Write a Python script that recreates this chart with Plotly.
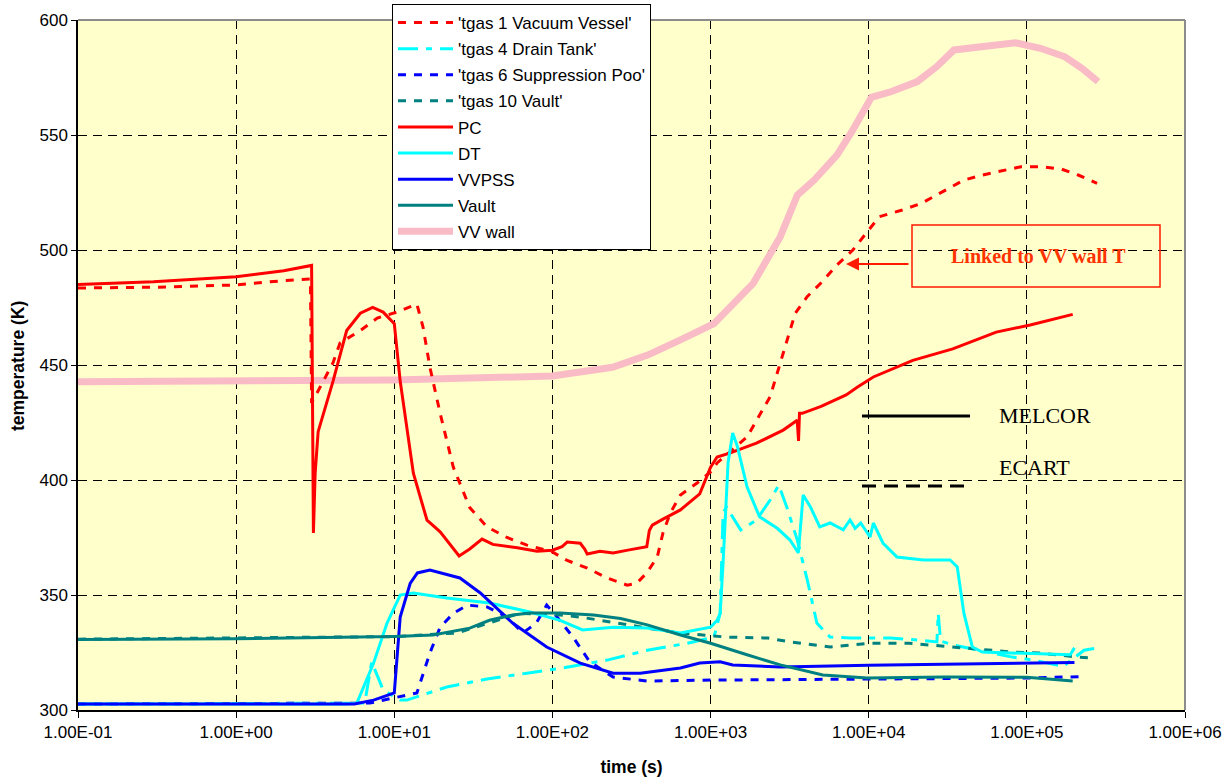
import plotly.graph_objects as go

# ---------------- data ----------------
x_tickvals = [0.1, 1, 10, 100, 1000, 10000, 100000, 1000000]
x_ticktext = ["1.00E-01", "1.00E+00", "1.00E+01", "1.00E+02", "1.00E+03", "1.00E+04", "1.00E+05", "1.00E+06"]

t_vv_ecart = [0.1, 0.3, 1, 2, 2.95, 3.0, 3.4, 4.1, 4.54, 6.1, 7.8, 10.4, 13.9, 15.2, 16.8, 19.5, 23.6, 30, 38.6,
              51.6, 69, 100, 124, 166, 222, 297, 340, 395, 460, 500, 556, 645, 822, 1000, 1100, 1700, 2380, 3430,
              4080, 5080, 6300, 7940, 10000, 11700, 16300, 21600, 29400, 40000, 52300, 69000, 92000, 125000,
              165000, 211000, 278000]
T_vv_ecart = [483.5, 483.8, 484.8, 486.7, 487.4, 433.5, 440.4, 451, 459.6, 465, 470.4, 473, 476.5, 466.5, 449, 429,
              405.6, 388, 379.6, 375, 371.7, 368.7, 365, 361.7, 357.4, 354.3, 355, 359.6, 366.5, 377, 385.6, 393.5,
              398.7, 403.5, 407.4, 418.7, 436.2, 472.5, 479.7, 486.2, 493.5, 500, 508.7, 514.5, 517.4, 520.3,
              525.4, 530.4, 532.6, 534.5, 536.2, 536.2, 535.2, 532.6, 529]

t_dt_ecart = [0.1, 6.5, 7.2, 8.5, 10.9, 12, 21.5, 38.6, 69, 117, 222, 398, 710, 1050, 1150, 1200, 1260, 1550, 1950,
              2380, 2700, 3030, 3530, 4090, 4700, 5700, 7620, 13700, 21000, 27000, 27500, 28500, 34000, 50000,
              81000, 110000, 170000, 230000, 280000]
T_dt_ecart = [302.6, 303, 320.9, 308.7, 304.3, 304.3, 310, 313.5, 316, 318.3, 321.7, 326, 329, 331.7, 342, 385.6,
              388.3, 378.3, 382.6, 391.3, 397.8, 388.3, 374, 356.5, 337.8, 331.7, 331.3, 331.3, 330.4, 329.6, 342,
              330, 328.3, 326, 323, 321.7, 319, 326, 327]

t_sp_ecart = [0.1, 7, 9.8, 13.9, 16.8, 19.5, 23.6, 29, 38.6, 51.6, 65, 79, 92, 107, 135, 172, 242, 398, 1000,
              10000, 100000, 220000]
T_sp_ecart = [302.6, 303, 305.2, 307.4, 324.8, 336, 342, 345.6, 344.8, 340.4, 333.5, 337.8, 345.6, 340.4, 331.7,
              321, 314.3, 312.6, 313, 313.3, 313.9, 314.5]

t_vault_ecart = [0.1, 1, 10, 25, 45, 62, 112, 150, 280, 398, 645, 1260, 2290, 3200, 5700, 10000, 18000, 34000,
                 81000, 120000, 209000, 270000]
T_vault_ecart = [330.8, 331.2, 331.9, 333.5, 339, 342, 341.3, 340.4, 337.4, 335.6, 333.5, 331.7, 331.3, 329.6,
                 327.4, 329, 329, 327.4, 325.2, 324.8, 323, 322.6]

t_pc = [0.1, 0.3, 1, 2, 3.0, 3.08, 3.16, 3.3, 4.1, 5.0, 6.1, 7.3, 8.5, 10, 10.9, 13.2, 16.1, 19.5, 25.7, 30, 35.9,
        42, 60, 80, 100, 115, 124, 150, 160, 166, 200, 242, 300, 395, 410, 428, 500, 645, 854, 1000, 1100, 1320,
        1950, 2880, 3530, 3600, 3650, 3800, 5000, 7200, 8500, 10700, 19000, 34000, 64000, 105000, 195000]
T_pc = [485, 486.2, 488.4, 491, 493.3, 377, 403, 421, 443, 465, 472.5, 475, 473, 468, 443, 403, 382.5, 377.5, 367,
        370, 374.3, 372, 370.5, 369, 369.5, 371, 373, 372.5, 370, 367.8, 369, 368.3, 369.5, 371, 378, 380.4, 383,
        387, 394, 405.6, 410, 411.7, 416, 421.7, 426, 417, 429, 429, 432, 437, 440.4, 444.8, 452, 457, 464.3,
        467.4, 472]

t_dt = [0.1, 5.0, 5.8, 7.4, 9.0, 10.9, 13.2, 21.5, 40, 72, 112, 155, 242, 398, 645, 1000, 1100, 1150, 1200, 1290,
        1380, 1480, 1700, 2040, 2640, 3170, 3590, 3850, 4280, 4900, 5700, 6900, 7620, 8200, 8900, 10200, 10700,
        12300, 15100, 22100, 32700, 36300, 40000, 45200, 52300, 100000, 188000, 200000]
T_dt = [302.6, 302.6, 303, 320.4, 337.8, 350, 350.9, 348.7, 346.5, 342.6, 339, 334.8, 336, 335.6, 333.5, 336, 339,
        342, 363.9, 407.4, 420.4, 414.4, 397, 384, 379, 374, 368.3, 393.5, 388.3, 379.6, 381.3, 378.3, 382.6, 379,
        381.3, 375.2, 381.3, 372.6, 366.5, 365.2, 365.2, 362.2, 342, 327.4, 325.2, 324.6, 324, 327]

t_vvpss = [0.1, 5.6, 7.4, 10, 10.9, 12.6, 14, 16.8, 26, 35, 56, 92, 150, 242, 359, 645, 854, 1150, 1380, 2760,
           10000, 100000, 200000]
T_vvpss = [302.6, 302.6, 304.3, 307.4, 340.4, 355, 359.6, 360.9, 357.4, 350.9, 337.8, 327.4, 320.4, 316, 316,
           318.3, 320.4, 321, 319.6, 318.7, 319.5, 320.2, 320.6]

t_vault = [0.1, 1, 10, 17.6, 30, 40, 56, 72, 112, 182, 270, 398, 645, 1000, 1700, 2760, 5130, 9800, 30000, 100000,
           195000]
T_vault = [330.7, 331, 332, 332.6, 335.6, 339, 341.3, 342.2, 342.2, 341.3, 339.8, 337, 332.6, 329, 324, 319.6,
           315.2, 313.9, 314.3, 314.2, 312.6]

t_wall = [0.1, 1, 10, 30, 100, 240, 400, 645, 1050, 1860, 2760, 3540, 4520, 6300, 7940, 10400, 13800, 20300,
          26900, 34600, 52300, 84600, 122000, 174000, 223000, 282000]
T_wall = [442.7, 443, 443.5, 444.3, 445.2, 449, 454.3, 460.9, 468, 485.5, 505.8, 523.9, 530.4, 541.3, 552.2,
          566.4, 568.8, 573.2, 579.7, 587, 588.4, 590.1, 587.7, 584, 579, 573.2]

# ---------------- figure ----------------
RED, CYAN, BLUE, TEAL, PINK = "#FF0000", "#00FFFF", "#0000FF", "#008080", "#F9BCC6"
DASH = "8px,8px"
DASHDOT = "20px,8px,6px,8px"

series = [
    # name, t, T, color, width, dash, legendrank
    ("VV wall", t_wall, T_wall, PINK, 7, "solid", 9),
    ("'tgas 1 Vacuum Vessel'", t_vv_ecart, T_vv_ecart, RED, 3, DASH, 1),
    ("'tgas 4 Drain Tank'", t_dt_ecart, T_dt_ecart, CYAN, 3, DASHDOT, 2),
    ("'tgas 6 Suppression Poo'", t_sp_ecart, T_sp_ecart, BLUE, 3, DASH, 3),
    ("'tgas 10 Vault'", t_vault_ecart, T_vault_ecart, TEAL, 3, DASH, 4),
    ("PC", t_pc, T_pc, RED, 3, "solid", 5),
    ("DT", t_dt, T_dt, CYAN, 3, "solid", 6),
    ("VVPSS", t_vvpss, T_vvpss, BLUE, 3, "solid", 7),
    ("Vault", t_vault, T_vault, TEAL, 3, "solid", 8),
]

fig = go.Figure()
for name, t, T, col, w, dash, rank in series:
    fig.add_trace(go.Scatter(x=t, y=T, mode="lines", name=name, legendgroup=name, legendrank=rank,
                             line=dict(color=col, width=w, dash=dash)))

FONT = "Liberation Sans"
SERIF = "Liberation Serif"


def px_x(p):
    return (p - 78) / 1107.0


def px_y(p):
    return (710 - p) / 690.0


fig.update_layout(
    width=1232, height=783,
    margin=dict(l=78, r=47, t=20, b=73, autoexpand=False),
    paper_bgcolor="white", plot_bgcolor="#FFFFCC",
    font=dict(family=FONT, color="black"),
    showlegend=True,
    legend=dict(x=px_x(392), y=px_y(4), xanchor="left", yanchor="top",
                bgcolor="white", bordercolor="black", borderwidth=1,
                font=dict(family=FONT, size=17, color="black"),
                traceorder="grouped", tracegroupgap=1, itemwidth=55),
    xaxis=dict(type="log", range=[-1, 6], tickvals=x_tickvals, ticktext=x_ticktext,
               tickfont=dict(size=17, family=FONT), ticks="outside", ticklen=6, tickcolor="black",
               showgrid=True, gridcolor="black", gridwidth=1, griddash="9px,6px",
               showline=True, linecolor="black", linewidth=1.5, zeroline=False,
               title=dict(text="<b>time (s)</b>", font=dict(size=17.5, family=FONT), standoff=20)),
    yaxis=dict(range=[300, 600], dtick=50, tick0=300,
               tickfont=dict(size=17, family=FONT), ticks="outside", ticklen=5, tickcolor="black",
               showgrid=True, gridcolor="black", gridwidth=1, griddash="9px,6px",
               showline=True, linecolor="black", linewidth=1.5, zeroline=False),
    shapes=[
        # panel that hides the grid behind the MELCOR / ECART key
        dict(type="rect", xref="paper", yref="paper", x0=px_x(850), x1=px_x(1117), y0=px_y(517), y1=px_y(387),
             fillcolor="#FFFFCC", line=dict(width=0), layer="between"),
        # grey top / right frame
        dict(type="line", xref="paper", yref="paper", x0=0, x1=1, y0=1, y1=1, line=dict(color="#8C8C8C", width=2)),
        dict(type="line", xref="paper", yref="paper", x0=1, x1=1, y0=0, y1=1, line=dict(color="#8C8C8C", width=2)),
        # MELCOR / ECART key lines
        dict(type="line", xref="paper", yref="paper", x0=px_x(862), x1=px_x(970), y0=px_y(416), y1=px_y(416),
             line=dict(color="black", width=3)),
        dict(type="line", xref="paper", yref="paper", x0=px_x(862), x1=px_x(968), y0=px_y(486), y1=px_y(486),
             line=dict(color="black", width=3, dash="14px,8px")),
        # box around the note
        dict(type="rect", xref="paper", yref="paper", x0=px_x(912), x1=px_x(1160), y0=px_y(287), y1=px_y(225),
             line=dict(color="#FF1A00", width=1.5)),
    ],
    annotations=[
        # y-axis title
        dict(xref="paper", yref="paper", x=px_x(18), y=px_y(366), xanchor="center", yanchor="middle",
             text="<b>temperature (K)</b>", textangle=-90, showarrow=False,
             font=dict(family=FONT, size=17.5, color="black")),
        dict(xref="paper", yref="paper", x=px_x(1038), y=px_y(256), xanchor="center", yanchor="middle",
             text="<b>Linked to VV wall T</b>",
             showarrow=False, font=dict(family=SERIF, size=20, color="#FF3300")),
        dict(xref="paper", yref="paper", x=px_x(846), y=px_y(264), text="", showarrow=True,
             ax=64, ay=0, arrowhead=2, arrowsize=1.3, arrowwidth=2, arrowcolor="#FF1A00"),
        dict(xref="paper", yref="paper", x=px_x(997), y=px_y(415), text="MELCOR", xanchor="left", yanchor="middle",
             showarrow=False, font=dict(family=SERIF, size=22, color="black")),
        dict(xref="paper", yref="paper", x=px_x(997), y=px_y(468), text="ECART", xanchor="left", yanchor="middle",
             showarrow=False, font=dict(family=SERIF, size=22, color="black")),
    ],
)

fig.write_html("out.html")
